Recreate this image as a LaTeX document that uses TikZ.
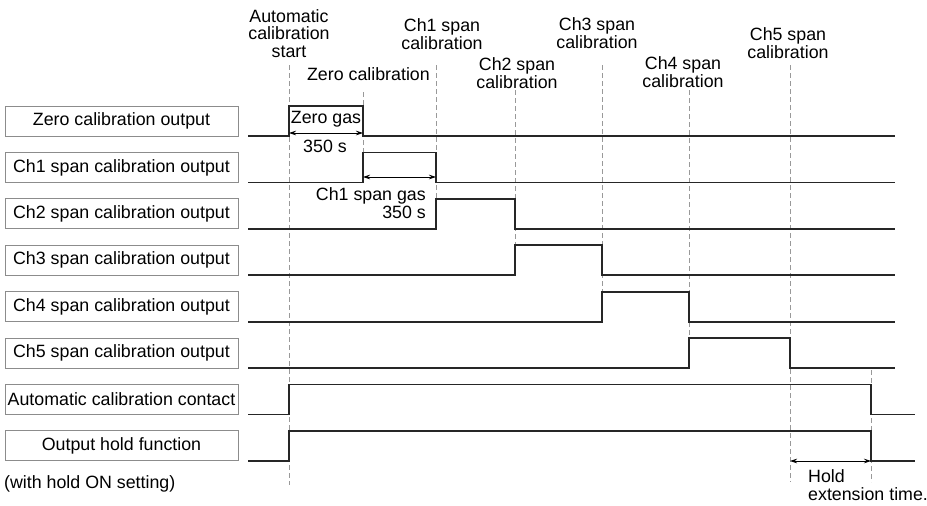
\documentclass[tikz,border=0pt]{standalone}
\usepackage{fontspec}
\setmainfont{Liberation Sans}
\usetikzlibrary{arrows.meta}

\begin{document}
\begin{tikzpicture}[
    x=1pt, y=-1pt,
    >={Stealth[length=7pt, width=4.5pt]},
    signal/.style={line width=1.8pt, black!85},
    timeline/.style={black!40, line width=0.7pt, dash pattern=on 5pt off 3pt},
    labelbox/.style={draw=black!45, line width=0.7pt, minimum width=233pt, minimum height=30pt, inner sep=0pt},
    dim/.style={<->, line width=0.7pt},
    txt/.style={inner sep=0pt, anchor=base},
    font=\fontsize{17.8}{17.5}\selectfont
]
    \useasboundingbox (0,0) rectangle (927,506);

    % Linee tratteggiate degli istanti
    \foreach \x/\ya/\yb in {289/65/485, 363/92/153, 436/65/198, 515/90/244,
                            602/65/292, 689/90/338, 790/65/482, 871/370/482}
        \draw[timeline] (\x,\ya) -- (\x,\yb);

    % Etichette degli istanti (base = ultima riga)
    \node[txt, align=center] (lstart) at (289,57) {Automatic\\calibration\\start};
    \node[txt, anchor=base east] (lzero) at (430,80) {Zero calibration};
    \node[txt, align=center] (lch1) at (442,49) {Ch1 span\\calibration};
    \node[txt, align=center] (lch2) at (517,88) {Ch2 span\\calibration};
    \node[txt, align=center] (lch3) at (597,48) {Ch3 span\\calibration};
    \node[txt, align=center] (lch4) at (683,87) {Ch4 span\\calibration};
    \node[txt, align=center] (lch5) at (788,58) {Ch5 span\\calibration};

    % Segnali (riquadro + forma d'onda)
    \foreach \i/\name/\up/\down/\xe in {
        0/Zero calibration output/289/363/895,
        1/Ch1 span calibration output/363/436/895,
        2/Ch2 span calibration output/436/515/895,
        3/Ch3 span calibration output/515/602/895,
        4/Ch4 span calibration output/602/689/895,
        5/Ch5 span calibration output/689/790/895,
        6/Automatic calibration contact/289/871/915,
        7/Output hold function/289/871/915}
    {
        \pgfmathsetmacro\lo{136+46.4*\i}
        \pgfmathsetmacro\hi{\lo-30}
        \node[labelbox] (box\i) at (121.5,\lo-15) {\name};
        \draw[signal] (248,\lo) -- (\up,\lo) -- (\up,\hi) -- (\down,\hi)
            -- (\down,\lo) -- (\xe,\lo);
    }
    \node[txt, anchor=base west] (note) at (4,488) {(with hold ON setting)};

    % Gas zero
    \coordinate (zgA) at (289,133);
    \coordinate (zgB) at (363,133);
    \draw[dim] (zgA) -- (zgB);
    \node[txt] (zgas) at (326,123) {Zero gas};
    \node[txt] (ztime) at (325,152) {350 s};

    % Gas di span Ch1
    \coordinate (sgA) at (363,177);
    \coordinate (sgB) at (436,177);
    \draw[dim] (sgA) -- (sgB);
    \node[txt, anchor=base east, align=right] (sgas) at (426,218) {Ch1 span gas\\350 s};

    % Tempo di estensione hold
    \coordinate (hA) at (790,461);
    \coordinate (hB) at (871,461);
    \draw[dim] (hA) -- (hB);
    \node[txt, anchor=base west, align=left] (hold) at (808,500) {Hold\\extension time.};

\end{tikzpicture}
\end{document}
